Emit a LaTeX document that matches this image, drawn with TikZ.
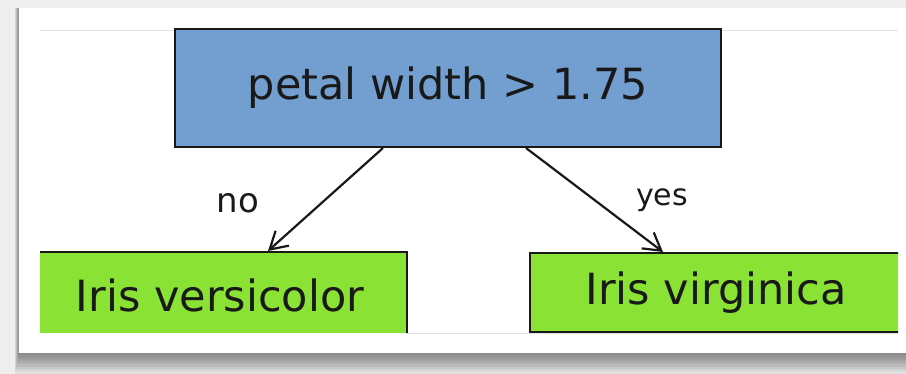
\documentclass[tikz,border=0pt]{standalone}
\usepackage{fontspec}
\setmainfont{DejaVu Sans}
\usetikzlibrary{arrows.meta}
\definecolor{skyblue}{HTML}{729FCF}
\definecolor{chameleon}{HTML}{8AE234}
\definecolor{pagegray}{HTML}{EEEEEE}
\begin{document}
\begin{tikzpicture}[x=1pt,y=1pt,
	box/.style={draw=black!90,line width=2pt,inner sep=0pt,text=black!90},
	test/.style={box,fill=skyblue,font=\fontsize{43}{43}\selectfont},
	leaf/.style={box,fill=chameleon,font=\fontsize{43}{43}\selectfont},
	answer/.style={text=black!90,inner sep=0pt},
	branch/.style={-{Straight Barb[length=17pt,width=20pt]},line width=2.2pt,draw=black!90}]
	% page and card with its shadow
	\fill[pagegray] (0,0) rectangle (906,374);
	\foreach \d in {1,...,9}
		\fill[black,opacity=0.055] (19-\d/2,21-2.3*\d) rectangle (906,366);
	\fill[white] (19,21) rectangle (906,366);
	\draw[black!12,line width=0.8pt] (40,344) -- (898,344) (406,41) -- (898,41);
	\begin{scope}
		\clip (40,41) rectangle (898,345);
		\node[test,minimum width=546pt,minimum height=118pt] (split) at (448,286) {petal width > 1.75};
		\node[leaf,minimum width=374pt,minimum height=86pt] (versicolor) at (220,79) {Iris versicolor};
		\node[leaf,minimum width=372pt,minimum height=79pt] (virginica) at (716,81.5) {Iris virginica};
	\end{scope}
	\draw[branch] ([xshift=-65pt]split.south) -- ([xshift=48pt]versicolor.north);
	\draw[branch] ([xshift=78pt]split.south) -- ([xshift=-53pt]virginica.north);
	\node[answer,font=\fontsize{34}{34}\selectfont] (no) at (238,171) {no};
	\node[answer,font=\fontsize{30}{30}\selectfont] (yes) at (662,173.5) {yes};
\end{tikzpicture}
\end{document}
